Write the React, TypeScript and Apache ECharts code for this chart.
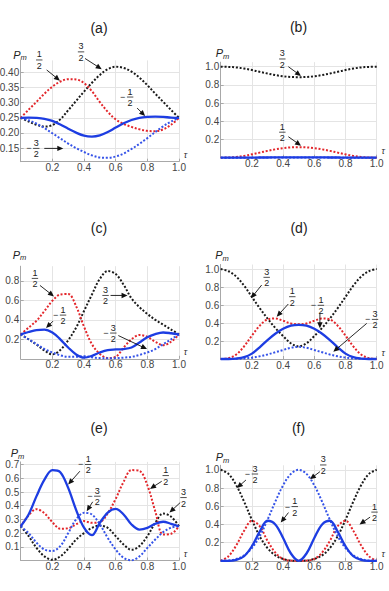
import React, { useEffect, useRef } from "react";
import * as echarts from "echarts";

// ---------- data ----------
const TAU = [0, 0.05, 0.1, 0.15, 0.2, 0.25, 0.3, 0.35, 0.4, 0.45, 0.5, 0.55, 0.6, 0.65, 0.7, 0.75, 0.8, 0.85, 0.9, 0.95, 1.0];

// (a)
const A_BLACK = [0.25, 0.238, 0.227, 0.221, 0.226, 0.245, 0.275, 0.306, 0.337, 0.366, 0.392, 0.411, 0.419, 0.415, 0.403, 0.383, 0.358, 0.33, 0.303, 0.276, 0.25];
const A_RED = [0.25, 0.277, 0.303, 0.33, 0.353, 0.37, 0.378, 0.377, 0.365, 0.338, 0.302, 0.27, 0.245, 0.23, 0.22, 0.212, 0.207, 0.206, 0.212, 0.227, 0.25];
const A_BLUE_DOT = [0.25, 0.242, 0.231, 0.216, 0.199, 0.182, 0.165, 0.15, 0.137, 0.126, 0.119, 0.118, 0.122, 0.132, 0.147, 0.164, 0.183, 0.203, 0.222, 0.238, 0.25];
const A_BLUE = [0.25, 0.251, 0.25, 0.247, 0.24, 0.228, 0.214, 0.201, 0.191, 0.188, 0.192, 0.203, 0.218, 0.232, 0.243, 0.25, 0.253, 0.254, 0.253, 0.251, 0.25];
// (b)
const B_BLACK = [1.0, 0.998, 0.992, 0.98, 0.963, 0.944, 0.925, 0.908, 0.895, 0.887, 0.885, 0.887, 0.895, 0.908, 0.925, 0.944, 0.963, 0.98, 0.992, 0.998, 1.0];
const B_RED = [0, 0.002, 0.008, 0.02, 0.037, 0.056, 0.075, 0.092, 0.105, 0.113, 0.115, 0.113, 0.105, 0.092, 0.075, 0.056, 0.037, 0.02, 0.008, 0.002, 0];
const B_BLUE_DOT = [0, 0, 0, 0, 0, 0.001, 0.001, 0.001, 0.001, 0.001, 0.001, 0.001, 0.001, 0.001, 0.001, 0.001, 0, 0, 0, 0, 0];
const B_BLUE = [0, 0, 0, 0.001, 0.001, 0.002, 0.002, 0.003, 0.003, 0.003, 0.003, 0.003, 0.003, 0.003, 0.002, 0.002, 0.001, 0.001, 0, 0, 0];
// (c)
const C_BLACK = [0.25, 0.2, 0.145, 0.085, 0.045, 0.09, 0.19, 0.32, 0.49, 0.66, 0.82, 0.9, 0.87, 0.76, 0.62, 0.53, 0.46, 0.4, 0.35, 0.3, 0.25];
const C_RED = [0.25, 0.32, 0.39, 0.49, 0.595, 0.66, 0.665, 0.54, 0.33, 0.15, 0.05, 0.008, 0.02, 0.115, 0.2, 0.245, 0.225, 0.175, 0.14, 0.175, 0.25];
const C_BLUE_DOT = [0.25, 0.2, 0.15, 0.1, 0.065, 0.035, 0.02, 0.02, 0.027, 0.015, 0.007, 0.005, 0.007, 0.012, 0.02, 0.04, 0.065, 0.1, 0.15, 0.2, 0.25];
const C_BLUE = [0.25, 0.275, 0.295, 0.3, 0.27, 0.2, 0.116, 0.045, 0.012, 0.03, 0.065, 0.09, 0.096, 0.1, 0.116, 0.167, 0.22, 0.253, 0.27, 0.262, 0.25];
// (d)
const D_BLACK = [1.0, 0.975, 0.915, 0.815, 0.69, 0.565, 0.45, 0.345, 0.255, 0.175, 0.14, 0.175, 0.255, 0.345, 0.45, 0.565, 0.69, 0.815, 0.915, 0.975, 1.0];
const D_RED = [0, 0.01, 0.05, 0.14, 0.26, 0.37, 0.44, 0.45, 0.425, 0.395, 0.385, 0.395, 0.425, 0.45, 0.44, 0.37, 0.26, 0.14, 0.05, 0.01, 0];
const D_BLUE_DOT = [0, 0, 0.002, 0.006, 0.015, 0.03, 0.05, 0.075, 0.1, 0.125, 0.135, 0.125, 0.1, 0.075, 0.05, 0.03, 0.015, 0.006, 0.002, 0, 0];
const D_BLUE = [0, 0, 0.005, 0.02, 0.06, 0.13, 0.21, 0.28, 0.335, 0.37, 0.38, 0.37, 0.335, 0.28, 0.21, 0.13, 0.06, 0.02, 0.005, 0, 0];
// (e)
const E_BLACK = [0.25, 0.178, 0.092, 0.03, 0.005, 0.03, 0.085, 0.153, 0.2, 0.238, 0.255, 0.238, 0.178, 0.117, 0.078, 0.105, 0.178, 0.275, 0.343, 0.32, 0.25];
const E_RED = [0.25, 0.33, 0.375, 0.345, 0.28, 0.232, 0.235, 0.265, 0.288, 0.275, 0.28, 0.345, 0.45, 0.575, 0.66, 0.655, 0.55, 0.36, 0.19, 0.195, 0.25];
const E_BLUE_DOT = [0.25, 0.2, 0.13, 0.08, 0.07, 0.105, 0.2, 0.3, 0.348, 0.336, 0.263, 0.165, 0.08, 0.02, 0.002, 0.03, 0.092, 0.153, 0.207, 0.24, 0.25];
const E_BLUE = [0.25, 0.336, 0.47, 0.59, 0.66, 0.645, 0.53, 0.37, 0.24, 0.185, 0.275, 0.35, 0.377, 0.336, 0.263, 0.226, 0.238, 0.268, 0.283, 0.268, 0.25];
// (f)
const F_BLACK = [1.0, 0.955, 0.83, 0.65, 0.45, 0.27, 0.14, 0.06, 0.02, 0.003, 0, 0.003, 0.02, 0.06, 0.14, 0.27, 0.45, 0.65, 0.83, 0.955, 1.0];
const F_RED = [0, 0.05, 0.17, 0.33, 0.44, 0.38, 0.22, 0.09, 0.02, 0.002, 0, 0.002, 0.02, 0.09, 0.22, 0.38, 0.44, 0.33, 0.17, 0.05, 0];
const F_BLUE_DOT = [0, 0.003, 0.02, 0.06, 0.14, 0.27, 0.45, 0.65, 0.83, 0.955, 1.0, 0.955, 0.83, 0.65, 0.45, 0.27, 0.14, 0.06, 0.02, 0.003, 0];
const F_BLUE = [0, 0, 0.01, 0.05, 0.16, 0.32, 0.44, 0.4, 0.25, 0.08, 0, 0.08, 0.25, 0.4, 0.44, 0.32, 0.16, 0.05, 0.01, 0, 0];

// tick labels
const X_TICKS = [0.2, 0.4, 0.6, 0.8, 1.0];
const A_Y_TICKS = [0.15, 0.2, 0.25, 0.3, 0.35, 0.4];
const B_Y_TICKS = [0.2, 0.4, 0.6, 0.8, 1.0];
const C_Y_TICKS = [0.2, 0.4, 0.6, 0.8];
const D_Y_TICKS = [0.2, 0.4, 0.6, 0.8, 1.0];
const E_Y_TICKS = [0.1, 0.2, 0.3, 0.4, 0.5, 0.6, 0.7];
const F_Y_TICKS = [0.2, 0.4, 0.6, 0.8, 1.0];

const TITLES = ["(a)", "(b)", "(c)", "(d)", "(e)", "(f)"];

// annotations: panel, numerator, negative sign, arrow tip (data coords)
const ANN_PANEL = [0, 0, 0, 0, 1, 1, 2, 2, 2, 2, 3, 3, 3, 3, 4, 4, 4, 4, 5, 5, 5, 5];
const ANN_NUM = ["1", "3", "1", "3", "3", "1", "1", "3", "1", "3", "3", "1", "1", "3", "1", "1", "3", "3", "3", "3", "1", "1"];
const ANN_NEG = [false, false, true, true, false, false, false, false, true, true, false, false, true, true, true, false, true, false, true, false, true, false];
const ANN_TIP = [
  [0.248, 0.373], [0.512, 0.411], [0.786, 0.256], [0.269, 0.149],
  [0.515, 0.898], [0.515, 0.132],
  [0.21, 0.64], [0.675, 0.65], [0.16, 0.315], [0.798, 0.1],
  [0.194, 0.674], [0.359, 0.47], [0.636, 0.341], [0.722, 0.08],
  [0.3, 0.555], [0.817, 0.523], [0.417, 0.36], [0.94, 0.35],
  [0.104, 0.8], [0.572, 0.896], [0.385, 0.42], [0.89, 0.4],
];

// ---------- layout / style ----------
const FONT = "'Liberation Sans', Arial, Helvetica, sans-serif";
const AXIS_C = "#a8a8a8";
const GRID_C = "#e4e4e4";
const LABEL_C = "#444";

const PANELS = [
  { grid: { left: 20.7, top: 60.4, width: 158.3, height: 101.3 }, yMin: 0.105, yMax: 0.44, ticks: A_Y_TICKS, dec: 2, titleAt: [99, 28], pAt: [17, 54.5], s: [A_BLACK, A_RED, A_BLUE_DOT, A_BLUE] },
  { grid: { left: 220.7, top: 62.15, width: 156, height: 95.55 }, yMin: 0, yMax: 1.05, ticks: B_Y_TICKS, dec: 1, titleAt: [298.5, 27], pAt: [219.5, 53], s: [B_BLACK, B_RED, B_BLUE_DOT, B_BLUE] },
  { grid: { left: 20.7, top: 266.2, width: 158.3, height: 92.6 }, yMin: 0, yMax: 0.95, ticks: C_Y_TICKS, dec: 1, titleAt: [99, 228], pAt: [16.5, 254.5], s: [C_BLACK, C_RED, C_BLUE_DOT, C_BLUE] },
  { grid: { left: 220.7, top: 264.5, width: 156, height: 94.5 }, yMin: 0, yMax: 1.05, ticks: D_Y_TICKS, dec: 1, titleAt: [299, 228], pAt: [219, 255], s: [D_BLACK, D_RED, D_BLUE_DOT, D_BLUE] },
  { grid: { left: 20.7, top: 461.9, width: 158.3, height: 98.6 }, yMin: 0, yMax: 0.72, ticks: E_Y_TICKS, dec: 1, titleAt: [99, 428], pAt: [14.5, 453], s: [E_BLACK, E_RED, E_BLUE_DOT, E_BLUE] },
  { grid: { left: 220.7, top: 465.25, width: 156, height: 95.55 }, yMin: 0, yMax: 1.05, ticks: F_Y_TICKS, dec: 1, titleAt: [298.5, 428], pAt: [219.5, 457], s: [F_BLACK, F_RED, F_BLUE_DOT, F_BLUE] },
];

// pixel offsets (from tip) for arrow tail and fraction label centre
const ANN_TAIL = [
  [-13.3, -10.7], [-16.7, -10.7], [-8, -8], [-19, 0],
  [-12.7, -9.3], [-12.7, -9],
  [-14, -11], [-17, 0], [7, -7], [-28.7, -13.5],
  [10.7, -13.3], [11.6, -12.7], [0, -15], [33.4, -28.4],
  [11.7, -13.3], [11.7, -7.6], [6, -9.4], [10.7, -10],
  [9, -8], [10, -7.6], [7.7, -10], [10.6, -7.3],
];
const ANN_LABEL = [
  [-20.7, -20.7], [-20.7, -17.3], [-15, -19], [-27, 0],
  [-18.7, -17], [-18.7, -13.5],
  [-19, -18], [-22, 0], [17, -13], [-33.7, -16],
  [15.7, -21], [15.6, -20], [1, -23], [41.7, -32.4],
  [20, -20], [15.7, -13.3], [10.6, -15], [14, -15],
  [18, -14], [13.3, -14.3], [14, -16], [15, -12.3],
];

const SERIES_STYLE = [
  { color: "#1a1a1a", width: 2, type: [2, 1.8] },
  { color: "#e3262b", width: 2, type: [2, 1.8] },
  { color: "#3553e8", width: 2, type: [2, 1.8] },
  { color: "#1d3de2", width: 2.3, type: "solid" },
];
const SERIES_NAMES = ["m = 3/2", "m = 1/2", "m = -3/2", "m = -1/2"];

function txt(x: number, y: number, text: string, font: string, align = "center", vAlign = "middle", fill = "#222") {
  return {
    type: "text",
    x,
    y,
    z: 100,
    silent: true,
    style: { text, font, fill, align, verticalAlign: vAlign, textAlign: align, textVerticalAlign: vAlign },
  };
}

export default function App() {
  const ref = useRef<HTMLDivElement>(null);
  useEffect(() => {
    if (!ref.current) return;
    const chart = echarts.init(ref.current, null, { renderer: "svg" });

    const option: any = {
      animation: false,
      backgroundColor: "#ffffff",
      grid: PANELS.map((p) => ({ ...p.grid, containLabel: false, outerBoundsMode: "none" })),
      xAxis: PANELS.map((p, i) => ({
        type: "value",
        gridIndex: i,
        min: 0,
        max: 1,
        axisLine: { show: true, onZero: false, lineStyle: { color: AXIS_C, width: 1 } },
        axisTick: { show: true, inside: true, length: 3, customValues: X_TICKS, lineStyle: { color: AXIS_C } },
        axisLabel: { show: true, customValues: X_TICKS, formatter: (v: number) => v.toFixed(1), color: LABEL_C, fontSize: 10, fontFamily: FONT, margin: 1 },
        splitLine: { show: true, lineStyle: { color: GRID_C, width: 1 } },
      })),
      yAxis: PANELS.map((p, i) => ({
        type: "value",
        gridIndex: i,
        min: p.yMin,
        max: p.yMax,
        axisLine: { show: true, onZero: false, lineStyle: { color: AXIS_C, width: 1 } },
        axisTick: { show: true, inside: true, length: 3, customValues: p.ticks, lineStyle: { color: AXIS_C } },
        axisLabel: { show: true, customValues: p.ticks, formatter: (v: number) => v.toFixed(p.dec), color: LABEL_C, fontSize: 10, fontFamily: FONT, margin: 1.5 },
        splitLine: { show: true, lineStyle: { color: GRID_C, width: 1 } },
      })),
      series: PANELS.flatMap((p, i) =>
        p.s.map((arr, k) => ({
          type: "line",
          name: SERIES_NAMES[k],
          xAxisIndex: i,
          yAxisIndex: i,
          data: TAU.map((t, j) => [t, arr[j]]),
          showSymbol: false,
          symbol: "none",
          smooth: 0.35,
          clip: false,
          silent: true,
          z: 2 + k,
          lineStyle: { color: SERIES_STYLE[k].color, width: SERIES_STYLE[k].width, type: SERIES_STYLE[k].type, cap: "butt" },
        }))
      ),
    };
    chart.setOption(option);

    const g: any[] = [];
    PANELS.forEach((p, i) => {
      g.push(txt(p.titleAt[0], p.titleAt[1], TITLES[i], `14px ${FONT}`));
      g.push(txt(p.pAt[0], p.pAt[1], "P", `italic 11px ${FONT}`));
      g.push(txt(p.pAt[0] + 6.5, p.pAt[1] + 3, "m", `italic 7.5px ${FONT}`));
      const end = chart.convertToPixel({ gridIndex: i }, [1, p.yMin]) as number[];
      g.push(txt(end[0] + 6.5, end[1] - 6.5, "τ", `italic 9px ${FONT}`, "center", "middle", "#333"));
    });

    ANN_PANEL.forEach((pi, k) => {
      const tip = chart.convertToPixel({ gridIndex: pi }, ANN_TIP[k]) as number[];
      const tail = [tip[0] + ANN_TAIL[k][0], tip[1] + ANN_TAIL[k][1]];
      const dx = tip[0] - tail[0];
      const dy = tip[1] - tail[1];
      const len = Math.hypot(dx, dy) || 1;
      const ux = dx / len;
      const uy = dy / len;
      const hl = 6;
      const hw = 2.7;
      const bx = tip[0] - ux * hl;
      const by = tip[1] - uy * hl;
      g.push({ type: "line", z: 100, silent: true, shape: { x1: tail[0], y1: tail[1], x2: bx + ux, y2: by + uy }, style: { stroke: "#111", lineWidth: 0.9 } });
      g.push({
        type: "polygon",
        z: 100,
        silent: true,
        shape: { points: [[tip[0], tip[1]], [bx - uy * hw, by + ux * hw], [bx + uy * hw, by - ux * hw]] },
        style: { fill: "#111" },
      });
      const cx = tip[0] + ANN_LABEL[k][0];
      const cy = tip[1] + ANN_LABEL[k][1];
      g.push(txt(cx, cy - 5.5, ANN_NUM[k], `9px ${FONT}`));
      g.push({ type: "line", z: 100, silent: true, shape: { x1: cx - 3.2, y1: cy, x2: cx + 3.2, y2: cy }, style: { stroke: "#222", lineWidth: 0.8 } });
      g.push(txt(cx, cy + 6, "2", `9px ${FONT}`));
      if (ANN_NEG[k]) g.push(txt(cx - 7.5, cy, "\u2212", `9px ${FONT}`));
    });

    chart.setOption({ graphic: g });
    return () => chart.dispose();
  }, []);

  return <div ref={ref} style={{ position: "fixed", left: 0, top: 0, width: 389, height: 591, background: "#fff" }} />;
}
